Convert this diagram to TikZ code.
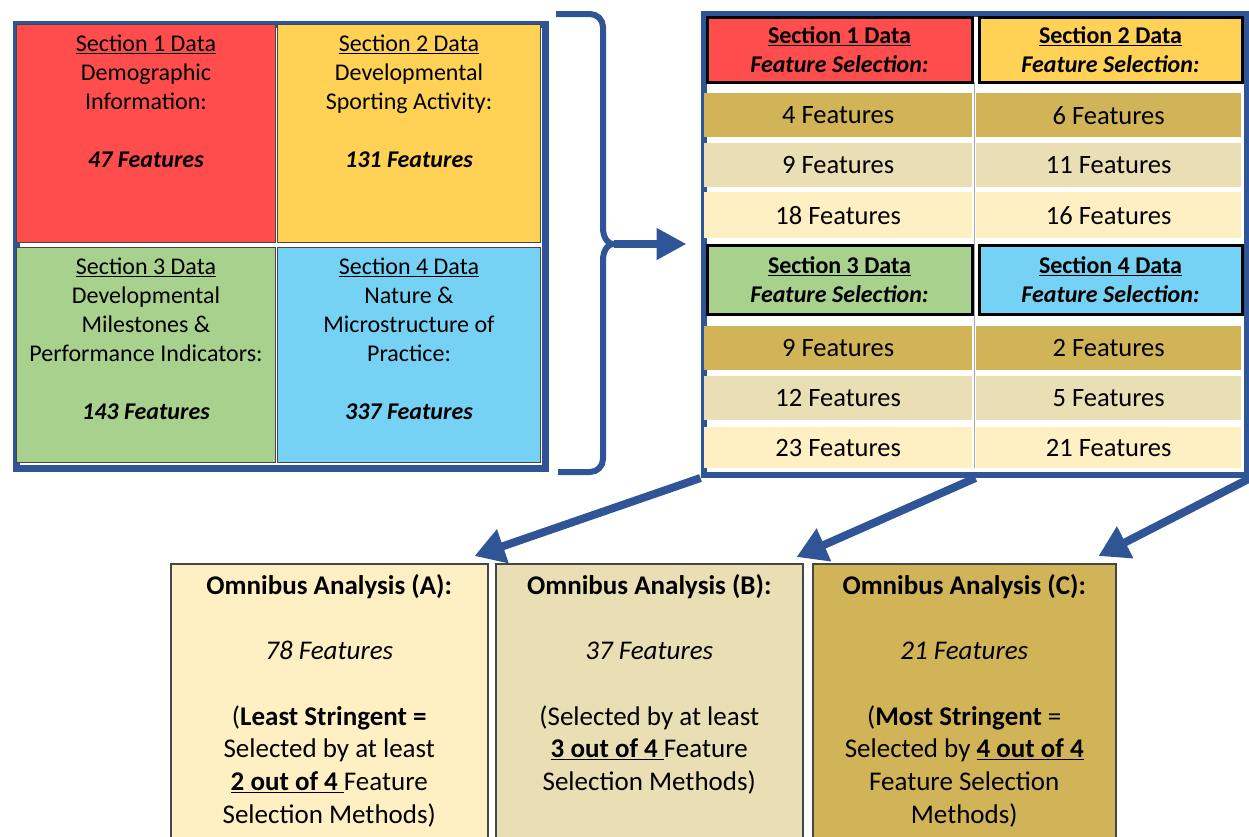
\documentclass[tikz,border=0pt]{standalone}
\usepackage{fontspec}
\setmainfont{Carlito}
\usetikzlibrary{arrows.meta,calc}
\definecolor{frameblue}{RGB}{47,85,151}
\definecolor{cred}{RGB}{255,76,76}
\definecolor{cyellow}{RGB}{255,210,85}
\definecolor{cgreen}{RGB}{169,209,142}
\definecolor{cblue}{RGB}{118,210,245}
\definecolor{cgold}{RGB}{210,180,88}
\definecolor{cbeige}{RGB}{234,222,180}
\definecolor{clight}{RGB}{255,240,196}
\definecolor{cellline}{RGB}{70,70,70}
\begin{document}
\begin{tikzpicture}[x=1pt,y=-1pt,
  frame/.style={draw=frameblue, line width=6.5pt, fill=white, inner sep=0pt, anchor=north west},
  lcell/.style={draw=cellline, line width=1pt, inner sep=0pt, anchor=north west},
  hcell/.style={draw=black, line width=3pt, inner sep=0pt, anchor=north west,
    align=center, font=\fontsize{24}{29}\selectfont\bfseries},
  rcell/.style={inner sep=0pt, anchor=north west, font=\fontsize{26.5}{30}\selectfont},
  lptext/.style={inner sep=0pt, anchor=north, align=center, font=\fontsize{24}{29}\selectfont},
  obox/.style={draw=cellline, line width=1.5pt, inner sep=0pt, anchor=north west},
  otext/.style={inner sep=0pt, anchor=north, align=center, font=\fontsize{27}{32.7}\selectfont},
  conn/.style={draw=frameblue, line width=8pt, -{Triangle[length=30pt,width=34pt]}}
]
\useasboundingbox (0,0) rectangle (1249,836);
\clip (0,0) rectangle (1249,836);

% ---------- left panel ----------
\node[frame, minimum width=529pt, minimum height=444pt] (lp) at (13,21) {};
\node[lcell, fill=cred,    minimum width=259pt, minimum height=218pt] (s1) at (16,24) {};
\node[lcell, fill=cyellow, minimum width=263pt, minimum height=218pt] (s2) at (277,24) {};
\node[lcell, fill=cgreen,  minimum width=259pt, minimum height=215pt] (s3) at (16,247) {};
\node[lcell, fill=cblue,   minimum width=263pt, minimum height=215pt] (s4) at (277,247) {};

\node[lptext] (t1) at ([yshift=-11pt]s1.north) {\underline{Section 1 Data}\\ Demographic\\ Information:\\[29pt] \textbf{\textit{47 Features}}};
\node[lptext] (t2) at ([yshift=-11pt]s2.north) {\underline{Section 2 Data}\\ Developmental\\ Sporting Activity:\\[29pt] \textbf{\textit{131 Features}}};
\node[lptext] (t3) at ([yshift=-11pt]s3.north) {\underline{Section 3 Data}\\ Developmental\\ Milestones \&\\ Performance Indicators:\\[29pt] \textbf{\textit{143 Features}}};
\node[lptext] (t4) at ([yshift=-11pt]s4.north) {\underline{Section 4 Data}\\ Nature \&\\ Microstructure of\\ Practice:\\[29pt] \textbf{\textit{337 Features}}};

% ---------- bracket ----------
\coordinate (notch) at (614,244);
\draw[frameblue, line width=6pt] (556,14) -- (590,14) to[out=0,in=90] (603,27) -- (603,228)
  to[out=-90,in=180] (notch) to[out=180,in=90] (603,260) -- (603,459)
  to[out=-90,in=0] (590,472) -- (558,472);

% ---------- right panel ----------
\node[frame, minimum width=543.5pt, minimum height=461pt] (rp) at (700.5,10.5) {};
\draw[black!35, line width=1pt] (974,82) -- (974,468);

\node[hcell, fill=cred,    minimum width=265pt, minimum height=65.5pt] (h1) at (705.5,15.5) {\underline{Section 1 Data}\\ \textit{Feature Selection:}};
\node[hcell, fill=cyellow, minimum width=263pt, minimum height=65.5pt] (h2) at (977.5,15.5) {\underline{Section 2 Data}\\ \textit{Feature Selection:}};

\node[rcell, fill=cgold,  minimum width=268pt, minimum height=44pt] (r11) at (704,93) {4 Features};
\node[rcell, fill=cgold,  minimum width=265pt, minimum height=44pt] (r21) at (976,93) {6 Features};
\node[rcell, fill=cbeige, minimum width=268pt, minimum height=44pt] (r12) at (704,143) {9 Features};
\node[rcell, fill=cbeige, minimum width=265pt, minimum height=44pt] (r22) at (976,143) {11 Features};
\node[rcell, fill=clight, minimum width=268pt, minimum height=46pt] (r13) at (704,192) {18 Features};
\node[rcell, fill=clight, minimum width=265pt, minimum height=46pt] (r23) at (976,192) {16 Features};

\node[hcell, fill=cgreen, minimum width=265pt, minimum height=69.5pt] (h3) at (705.5,243.5) {\underline{Section 3 Data}\\ \textit{Feature Selection:}};
\node[hcell, fill=cblue,  minimum width=263pt, minimum height=69.5pt] (h4) at (977.5,243.5) {\underline{Section 4 Data}\\ \textit{Feature Selection:}};

\node[rcell, fill=cgold,  minimum width=268pt, minimum height=44pt] (r31) at (704,326) {9 Features};
\node[rcell, fill=cgold,  minimum width=265pt, minimum height=44pt] (r41) at (976,326) {2 Features};
\node[rcell, fill=cbeige, minimum width=268pt, minimum height=44pt] (r32) at (704,376) {12 Features};
\node[rcell, fill=cbeige, minimum width=265pt, minimum height=44pt] (r42) at (976,376) {5 Features};
\node[rcell, fill=clight, minimum width=268pt, minimum height=41pt] (r33) at (704,427) {23 Features};
\node[rcell, fill=clight, minimum width=265pt, minimum height=41pt] (r43) at (976,427) {21 Features};

% ---------- omnibus boxes ----------
\node[obox, fill=clight, minimum width=317pt, minimum height=300pt] (bA) at (170,563) {};
\node[obox, fill=cbeige, minimum width=307pt, minimum height=300pt] (bB) at (495,563) {};
\node[obox, fill=cgold,  minimum width=303pt, minimum height=300pt] (bC) at (812,563) {};

\node[otext] (tA) at ([yshift=-11pt]bA.north) {\textbf{Omnibus Analysis (A):}\\[32.7pt] \textit{78 Features}\\[32.7pt]
  (\textbf{Least Stringent =}\\ Selected by at least\\ \underline{\textbf{2 out of 4} }Feature\\ Selection Methods)};
\node[otext] (tB) at ([yshift=-11pt]bB.north) {\textbf{Omnibus Analysis (B):}\\[32.7pt] \textit{37 Features}\\[32.7pt]
  (Selected by at least\\ \underline{\textbf{3 out of 4} }Feature\\ Selection Methods)};
\node[otext] (tC) at ([yshift=-11pt]bC.north) {\textbf{Omnibus Analysis (C):}\\[32.7pt] \textit{21 Features}\\[32.7pt]
  (\textbf{Most Stringent} =\\ Selected by \underline{\textbf{4 out of 4}}\\ Feature Selection\\ Methods)};

% ---------- connectors ----------
\draw[draw=frameblue, line width=8pt, -{Triangle[length=30pt,width=30pt]}] (notch) -- ($(notch -| rp.west)+(-14,0)$);
\draw[conn] (rp.south west) -- ($(bA.north east)+(-14,-7)$);
\draw[conn] (rp.south) -- ($(bB.north east)+(-7,-6)$);
\draw[conn] (rp.south east) -- ($(bC.north east)+(-18,-7)$);
\end{tikzpicture}
\end{document}
